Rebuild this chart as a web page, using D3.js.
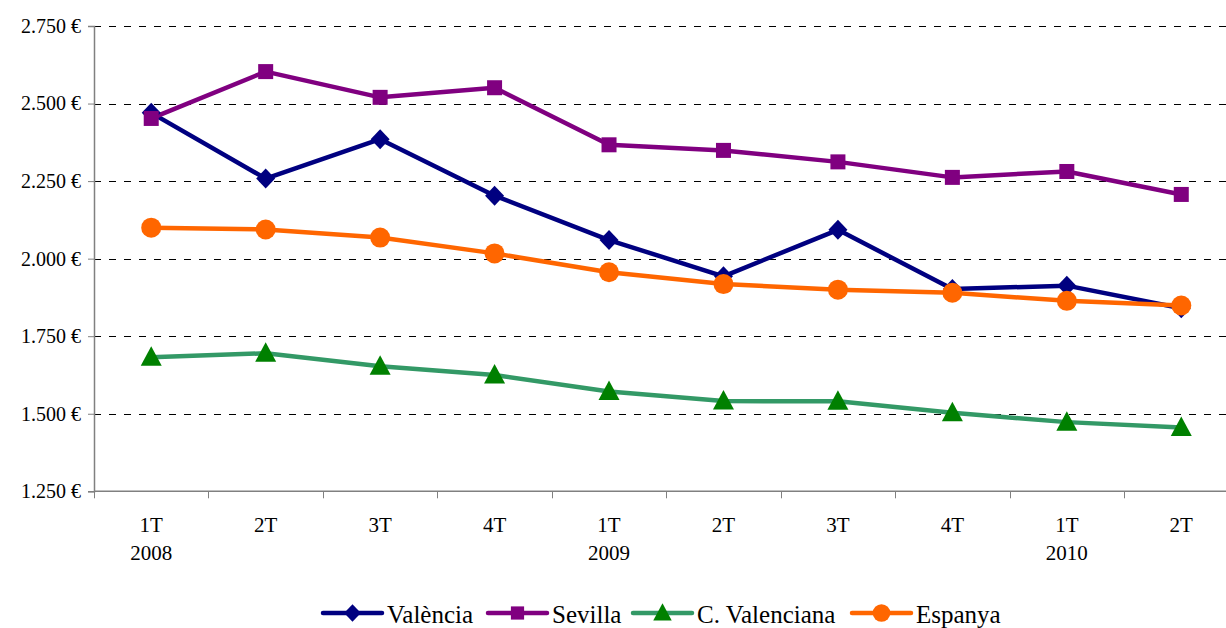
<!DOCTYPE html>
<html><head><meta charset="utf-8">
<script src="https://cdn.jsdelivr.net/npm/d3@7"></script>
<style>body{margin:0;background:#fff}svg{display:block}</style>
</head><body><svg id="c" width="1226" height="628"></svg>
<script>
const quarters = ["1T","2T","3T","4T","1T","2T","3T","4T","1T","2T"];
const years = ["2008","","","","2009","","","","2010",""];
const valencia = [2470,2258,2385,2203,2060,1943,2093,1902,1913,1840];
const sevilla = [2452,2603,2520,2551,2367,2349,2312,2262,2281,2207];
const cvalenciana = [1682,1695,1653,1625,1572,1541,1540,1503,1473,1456];
const espanya = [2100,2094,2068,2017,1956,1918,1900,1890,1864,1849];
const yTicks = [1250,1500,1750,2000,2250,2500,2750];
const seriesNames = ["València","Sevilla","C. Valenciana","Espanya"];

const FONT = "'Liberation Serif', 'Times New Roman', serif";
const series = [
  {name:seriesNames[0], values:valencia, line:"#000080", fill:"#000080", shape:"diamond"},
  {name:seriesNames[1], values:sevilla, line:"#800080", fill:"#800080", shape:"square"},
  {name:seriesNames[2], values:cvalenciana, line:"#339966", fill:"#008000", shape:"triangle"},
  {name:seriesNames[3], values:espanya, line:"#FF6600", fill:"#FF6600", shape:"circle"}
];

const svg = d3.select("#c");
const L = 94, R = 1238.5, T = 26, B = 491.3;
const idx = d3.range(quarters.length);
const x = d3.scaleBand().domain(idx).range([L, R]);
const y = d3.scaleLinear().domain([1250, 2750]).range([B, T]);
const cx = i => x(i) + x.bandwidth()/2;

// gridlines
svg.append("g").selectAll("line").data(yTicks.filter(v => v > 1250)).join("line")
  .attr("x1", L).attr("x2", R).attr("y1", d => Math.round(y(d))+0.5).attr("y2", d => Math.round(y(d))+0.5)
  .attr("stroke", "#000").attr("stroke-width", 1).attr("stroke-dasharray", "7,8");

// y axis
const yAxis = svg.append("g").attr("transform", `translate(${L},0)`)
  .call(d3.axisLeft(y).tickValues(yTicks).tickSize(6).tickPadding(7)
    .tickFormat(d => d3.format(",")(d).replace(",", ".") + " €"));
yAxis.attr("font-family", FONT).attr("font-size", 20);
yAxis.select(".domain").attr("stroke", "#808080").attr("stroke-width", 1.5);
yAxis.selectAll(".tick line").attr("stroke", "#808080");
yAxis.selectAll("text").style("font-family", FONT).style("font-size", "20px").attr("fill", "#000");

// x axis
const xAxis = svg.append("g").attr("transform", `translate(0,${B})`);
xAxis.append("line").attr("x1", L).attr("x2", R).attr("stroke", "#808080").attr("stroke-width", 1.5);
xAxis.selectAll(".tk").data(d3.range(quarters.length + 1)).join("line").attr("class","tk")
  .attr("x1", i => Math.round(L + i*x.bandwidth())+0.5).attr("x2", i => Math.round(L + i*x.bandwidth())+0.5)
  .attr("y1", 0).attr("y2", 7).attr("stroke", "#808080");
const lab = xAxis.selectAll(".lab").data(idx).join("text").attr("class","lab")
  .attr("text-anchor", "middle").style("font-family", FONT).style("font-size", "21px").attr("fill", "#000");
lab.append("tspan").attr("x", cx).attr("y", 41).text(i => quarters[i]);
lab.append("tspan").attr("x", cx).attr("y", 68.5).text(i => years[i]);

function marker(g, shape, fill, s) {
  s = s || 1;
  if (shape === "diamond") g.append("path").attr("d", `M0,${-10*s}L${9.5*s},0L0,${10*s}L${-9.5*s},0Z`).attr("fill", fill);
  else if (shape === "square") g.append("rect").attr("x", -7.5*s).attr("y", -7.5*s).attr("width", 15*s).attr("height", 15*s).attr("fill", fill);
  else if (shape === "triangle") g.append("path").attr("d", `M0,${-11*s}L${10.5*s},${8.5*s}L${-10.5*s},${8.5*s}Z`).attr("fill", fill);
  else g.append("circle").attr("r", 10*s).attr("fill", fill);
}

const line = d3.line().x((d, i) => cx(i)).y(d => y(d));
series.forEach(s => {
  svg.append("path").datum(s.values).attr("d", line).attr("fill", "none")
    .attr("stroke", s.line).attr("stroke-width", 4.5).attr("stroke-linejoin", "round");
});
series.forEach(s => {
  s.values.forEach((v, i) => {
    const g = svg.append("g").attr("transform", `translate(${cx(i)},${y(v)})`);
    marker(g, s.shape, s.fill);
  });
});

// legend
const legendX = [323, 488, 633, 852];
const legendW = 59;
const ly = 613;
series.forEach((s, k) => {
  const g = svg.append("g").attr("transform", `translate(${legendX[k]},${ly})`);
  g.append("line").attr("x1", 0).attr("x2", legendW).attr("stroke", s.line).attr("stroke-width", 4.5).attr("stroke-linecap", "round");
  const m = g.append("g").attr("transform", `translate(${legendW/2},0)`);
  marker(m, s.shape, s.fill, 0.88);
  g.append("text").attr("x", legendW + 5).attr("y", 10).style("font-family", FONT).style("font-size", "25px").attr("fill", "#000").text(s.name);
});
</script></body></html>
